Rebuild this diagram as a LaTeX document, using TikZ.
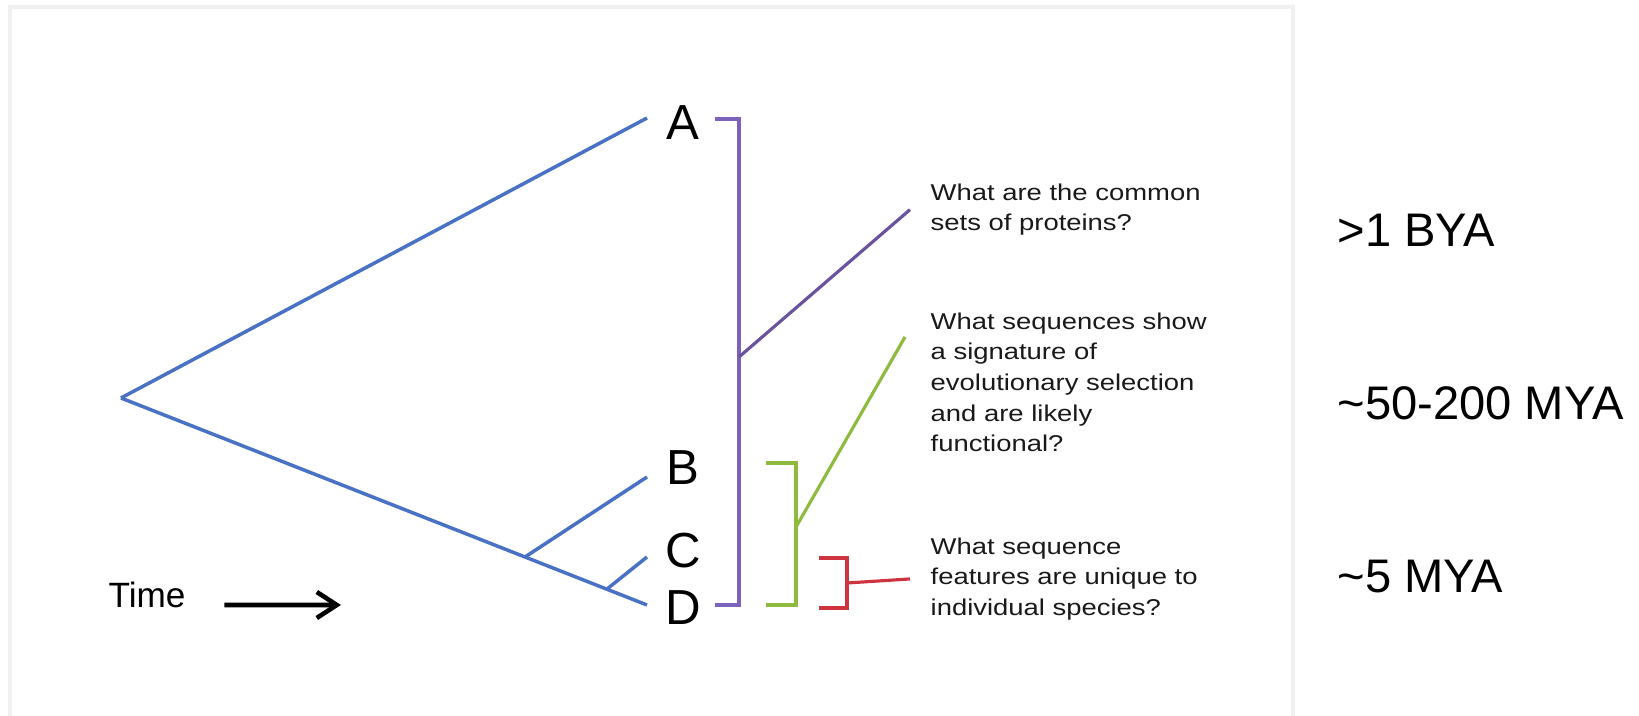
\documentclass[tikz,border=0pt]{standalone}
\usepackage{fontspec}
\setmainfont{Liberation Sans}
\newfontfamily\qfont[FakeStretch=1.2]{Liberation Sans}
\usetikzlibrary{arrows.meta,positioning}

\definecolor{treeblue}{RGB}{74,114,196}
\definecolor{brackpurple}{RGB}{124,98,186}
\definecolor{brackgreen}{RGB}{142,186,62}
\definecolor{brackred}{RGB}{206,52,64}

\begin{document}
\begin{tikzpicture}[
    x=0.01cm, y=-0.01cm,
    branch/.style={treeblue, line width=1pt},
    brack/.style={line width=0.9pt},
    taxon/.style={inner sep=0pt, font=\fontsize{14}{16}\selectfont},
    question/.style={anchor=north west, inner sep=0pt, align=left, text=black!90, font=\qfont\fontsize{6.5}{8.7}\selectfont},
    era/.style={anchor=base west, inner sep=0pt, font=\fontsize{13.4}{16}\selectfont},
    arr/.style={-{Straight Barb[length=2mm,width=2.6mm]}, line width=1.3pt}
  ]
    \useasboundingbox (0,0) rectangle (1639,716);
    \draw[black!6, line width=1pt] (10,716) |- (1293,7) -- (1293,716);

    % tree
    \coordinate (root) at (121,398);
    \coordinate (tipA) at (647,118);
    \coordinate (tipB) at (647,477);
    \coordinate (tipC) at (647,557);
    \coordinate (tipD) at (647,605);
    \coordinate (bcd) at (525,557);
    \coordinate (cd) at (607,589);

    \draw[branch] (root) -- (tipA);
    \draw[branch] (root) -- (tipD);
    \draw[branch] (bcd) -- (tipB);
    \draw[branch] (cd) -- (tipC);

    \node[taxon] (A) at (683,123) {A};
    \node[taxon] (B) at (683,468) {B};
    \node[taxon] (C) at (683,551) {C};
    \node[taxon] (D) at (683,608) {D};

    % questions
    \node[question] (q1) at (930,183) {What are the common\\sets of proteins?};
    \node[question] (q2) at (930,312) {What sequences show\\a signature of\\evolutionary selection\\and are likely\\functional?};
    \node[question] (q3) at (930,537) {What sequence\\features are unique to\\individual species?};

    % brackets
    \coordinate (pJoin) at (739,357);
    \coordinate (gJoin) at (796,527);
    \coordinate (gEnd) at (905,337);
    \coordinate (rJoin) at (847,583);

    \draw[brack, brackpurple] (715,119) -| (739,605) -- (715,605);
    \draw[brack, brackgreen] (766,463) -| (796,605) -- (766,605);
    \draw[brack, brackred] (819,558) -| (847,608) -- (819,608);

    \draw[brack, brackpurple!85!black] (pJoin) -- ([xshift=-2mm]q1.west);
    \draw[brack, brackgreen] (gJoin) -- (gEnd);
    \draw[brack, brackred] (rJoin) -- ([xshift=-2mm]q3.west);

    % time scale
    \node[era] (bya) at (1337,247) {>1 BYA};
    \node[era] (mya200) at (1337,420) {\textasciitilde 50-200 MYA};
    \node[era] (mya5) at (1337,593) {\textasciitilde 5 MYA};

    \node[anchor=base west, inner sep=0pt, font=\fontsize{10}{12}\selectfont] (time) at (108,608) {Time};
    \coordinate (timeEnd) at (341,605);
    \draw[arr] ([shift={(3.8mm,0.3mm)}]time.base east) -- (timeEnd);
\end{tikzpicture}
\end{document}
